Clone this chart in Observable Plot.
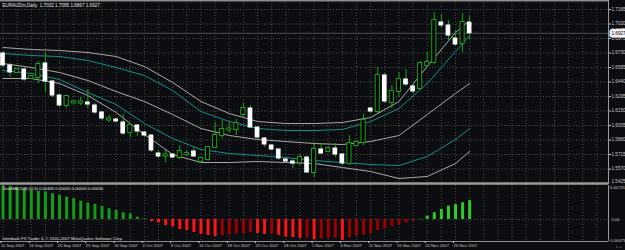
<!DOCTYPE html>
<html><head><meta charset="utf-8">
<script src="https://cdn.jsdelivr.net/npm/d3@7"></script>
<script src="https://cdn.jsdelivr.net/npm/@observablehq/plot@0.6"></script>
<style>
html,body{margin:0;padding:0;background:#0c0d10;}
#chart{position:relative;width:625px;height:250px;background:#0c0d10;overflow:hidden;}
#chart svg{position:absolute;left:0;display:block;}
</style></head><body><div id="chart"></div>
<script>
// ---- data (EURAUDm daily, bars 0..66) ----
const open = [1.6725,1.6605,1.6535,1.6565,1.6475,1.6485,1.6625,1.6445,1.6305,1.6205,
1.6230,1.6230,1.6235,1.6205,1.6135,1.6060,1.6065,1.6035,1.5935,1.6005,
1.5935,1.5905,1.5725,1.5700,1.5715,1.5685,1.5715,1.5745,1.5645,1.5665,
1.5785,1.5905,1.5960,1.5965,1.6115,1.6175,1.5985,1.5875,1.5805,1.5765,
1.5665,1.5645,1.5635,1.5685,1.5535,1.5765,1.5745,1.5775,1.5715,1.5625,
1.5805,1.5835,1.6175,1.6145,1.6505,1.6235,1.6345,1.6465,1.6395,1.6375,
1.6605,1.6635,1.7035,1.7005,1.6875,1.6825,1.7032];
const high = [1.6745,1.6625,1.6575,1.6575,1.6505,1.6645,1.6735,1.6455,1.6315,1.6305,
1.6255,1.6285,1.6365,1.6225,1.6145,1.6105,1.6075,1.6115,1.6025,1.6015,
1.5945,1.5915,1.5755,1.5755,1.5725,1.5805,1.5755,1.5785,1.5685,1.5795,
1.6035,1.6055,1.6035,1.6065,1.6225,1.6205,1.5995,1.5885,1.5815,1.5775,
1.5675,1.5675,1.5715,1.5695,1.5835,1.5825,1.5795,1.5825,1.5725,1.5905,
1.5855,1.6115,1.6185,1.6585,1.6525,1.6405,1.6535,1.6565,1.6415,1.6645,
1.6735,1.7135,1.7115,1.7055,1.6955,1.7125,1.7095];
const low = [1.6585,1.6485,1.6525,1.6445,1.6465,1.6425,1.6335,1.6285,1.6185,1.6175,
1.6225,1.6205,1.6175,1.6115,1.6055,1.6035,1.6035,1.5905,1.5885,1.5895,
1.5885,1.5735,1.5675,1.5635,1.5675,1.5665,1.5695,1.5685,1.5625,1.5645,
1.5775,1.5875,1.5925,1.5905,1.6085,1.5975,1.5865,1.5785,1.5755,1.5655,
1.5635,1.5575,1.5605,1.5525,1.5485,1.5715,1.5735,1.5685,1.5605,1.5605,
1.5795,1.5805,1.6125,1.6125,1.6225,1.6175,1.6285,1.6395,1.6325,1.6355,
1.6585,1.6615,1.6985,1.6855,1.6795,1.6735,1.6867];
const close = [1.6605,1.6535,1.6565,1.6465,1.6495,1.6615,1.6445,1.6305,1.6205,1.6295,
1.6240,1.6240,1.6215,1.6135,1.6075,1.6070,1.6045,1.5925,1.6005,1.5945,
1.5905,1.5755,1.5695,1.5710,1.5685,1.5745,1.5725,1.5695,1.5675,1.5785,
1.5905,1.5965,1.5970,1.6025,1.6175,1.5985,1.5885,1.5815,1.5765,1.5675,
1.5645,1.5625,1.5685,1.5535,1.5765,1.5725,1.5775,1.5715,1.5625,1.5825,
1.5835,1.6055,1.6145,1.6505,1.6245,1.6345,1.6465,1.6415,1.6345,1.6625,
1.6635,1.7055,1.7005,1.6905,1.6815,1.7035,1.6927];

// band lines, read at these bar indices
const bandBars = [0,4,8,12,16,20,24,28,32,36,40,44,48,52,56,60,64,66];
const outerUpper = [1.6785,1.6765,1.6755,1.6735,1.6695,1.6595,1.6435,1.6245,1.6125,1.6045,1.6025,1.6025,1.6035,1.6085,1.6245,1.6595,1.6935,1.7055];
const innerUpper = [1.6725,1.6705,1.6695,1.6655,1.6585,1.6505,1.6355,1.6145,1.6045,1.5975,1.5955,1.5955,1.5965,1.6045,1.6175,1.6425,1.6745,1.6905];
const middle     = [1.6625,1.6585,1.6535,1.6455,1.6345,1.6245,1.6115,1.5975,1.5905,1.5865,1.5845,1.5825,1.5815,1.5845,1.5905,1.6115,1.6325,1.6425];
const innerLower = [1.6555,1.6525,1.6465,1.6335,1.6215,1.6025,1.5875,1.5765,1.5725,1.5705,1.5685,1.5655,1.5635,1.5615,1.5605,1.5695,1.5865,1.5975];
const outerLower = [1.6475,1.6475,1.6425,1.6305,1.6135,1.5915,1.5715,1.5635,1.5635,1.5645,1.5635,1.5625,1.5585,1.5545,1.5475,1.5495,1.5625,1.5745];

const macd = [0.00731,0.00713,0.00685,0.00663,0.00626,0.00605,0.00590,0.00555,0.00518,0.00482,
0.00447,0.00395,0.00352,0.00324,0.00281,0.00231,0.00194,0.00145,0.00123,0.00050,
0.00012,-0.00043,-0.00076,-0.00130,-0.00162,-0.00216,-0.00238,-0.00281,-0.00324,-0.00346,
-0.00367,-0.00346,-0.00335,-0.00313,-0.00302,-0.00281,-0.00302,-0.00324,-0.00318,-0.00346,
-0.00378,-0.00389,-0.00410,-0.00400,-0.00432,-0.00421,-0.00410,-0.00400,-0.00454,-0.00389,
-0.00356,-0.00335,-0.00302,-0.00238,-0.00205,-0.00151,-0.00119,-0.00076,-0.00043,0.00006,
0.00071,0.00145,0.00216,0.00287,0.00318,0.00360,0.00405];

const priceTicks = [1.7165,1.7020,1.6875,1.6730,1.6585,1.6440,1.6295,1.6150,1.6005,1.5860,1.5715,1.5570,1.5425];
const lastPrice = 1.6927;
const macdTicks = [0.00731, 0, -0.00475];
const macdTickLabels = ["0.00731", "0.00", "-0.00475"];
const dateTicks = [0,4,8,12,16,20,24,28,32,36,40,44,48,52,56,60,64];
const dateLabels = ["11 Sep 2007","16 Sep 2007","20 Sep 2007","25 Sep 2007","30 Sep 2007","4 Oct 2007","9 Oct 2007","14 Oct 2007","18 Oct 2007","23 Oct 2007","28 Oct 2007","1 Nov 2007","6 Nov 2007","11 Nov 2007","15 Nov 2007","20 Nov 2007","25 Nov 2007"];
const titleText = "EURAUDm,Daily  1.7032 1.7095 1.6867 1.6927";
const macdTitle = "ZeroMACD(8,20,5) 0.00405 0.00000 0.00000 0.00000";
const caption = "Interbank FX Trader 4, \u00a9 2001-2007 MetaQuotes Software Corp.";

// ---- build ----
const xDomain = [-0.354, 85.64];
const yDomain = [1.5415, 1.7255];
const macdDomain = [-0.00475, 0.00731];
const gridBars = d3.range(0, 86, 2);
const font = "Liberation Sans, Arial, sans-serif";
const fs = 4.6;
const fsSmall = 4.2;
const GRID = "#4a4a4e";
const WICK = "#17a317";
const GRAY = "#a9a9a9";
const TEAL = "#138f8f";

const candles = open.map((o, i) => ({i, o, h: high[i], l: low[i], c: close[i], up: close[i] >= o}));
const band = vals => vals.map((p, k) => ({i: bandBars[k], p}));
const hist = macd.map((v, i) => {
  const prev = i > 0 ? macd[i - 1] : v;
  const kind = v >= 0 ? (v > prev ? "up+" : "dn+") : (v < prev ? "dn-" : "up-");
  return {i, v, kind};
});
const priceLabel = new Map(priceTicks.map(t => [t, t.toFixed(4)]));
const macdLabel = new Map(macdTicks.map((t, k) => [t, macdTickLabels[k]]));
const dateLabel = new Map(dateTicks.map((t, k) => [t, dateLabels[k]]));
const lastTick = priceTicks[priceTicks.length - 1];

const baseStyle = {background: "transparent", color: "#c8c8c8", fontFamily: font, fontSize: fs + "px", overflow: "visible"};

const main = Plot.plot({
  width: 625, height: 184,
  marginTop: 0, marginLeft: 0, marginRight: 17, marginBottom: 0,
  style: baseStyle,
  x: {domain: xDomain, axis: null},
  y: {domain: yDomain, axis: null, label: null},
  marks: [
    Plot.ruleX(gridBars, {stroke: GRID, strokeDasharray: "1,2"}),
    Plot.ruleY(priceTicks, {stroke: GRID, strokeDasharray: "1,2"}),
    Plot.ruleY([lastPrice], {stroke: "#505054"}),
    Plot.line(band(outerUpper), {x: "i", y: "p", stroke: GRAY, strokeWidth: 1}),
    Plot.line(band(innerUpper), {x: "i", y: "p", stroke: TEAL, strokeWidth: 1}),
    Plot.line(band(middle), {x: "i", y: "p", stroke: GRAY, strokeWidth: 1}),
    Plot.line(band(innerLower), {x: "i", y: "p", stroke: TEAL, strokeWidth: 1}),
    Plot.line(band(outerLower), {x: "i", y: "p", stroke: GRAY, strokeWidth: 1}),
    Plot.ruleX(candles, {x: "i", y1: "l", y2: "h", stroke: WICK, strokeWidth: 1}),
    Plot.rect(candles.filter(d => d.up), {x1: d => d.i - 0.29, x2: d => d.i + 0.29, y1: "o", y2: "c", fill: "#000", stroke: WICK, strokeWidth: 1, insetTop: -0.5, insetBottom: -0.5}),
    Plot.rect(candles.filter(d => !d.up), {x1: d => d.i - 0.33, x2: d => d.i + 0.33, y1: "o", y2: "c", fill: "#ffffff", insetTop: -0.5, insetBottom: -0.5}),
    Plot.ruleY([yDomain[1]], {stroke: "#8c8c8c", strokeWidth: 2}),
    Plot.ruleY([lastTick], {stroke: "#9a9a9a", strokeWidth: 2.5}),
    Plot.ruleX([xDomain[1]], {stroke: "#9a9a9a"}),
    Plot.axisY(priceTicks.slice(0, -1), {anchor: "right", tickSize: 2, tickPadding: 1, tickFormat: d => priceLabel.get(d), fontSize: fs, color: "#c8c8c8"}),
    Plot.axisY([lastTick], {anchor: "right", tickSize: 0, tickPadding: 3, tickFormat: d => priceLabel.get(d), fontSize: fs, color: "#c8c8c8", dy: -2.2}),
    Plot.text([lastPrice], {x: xDomain[1], y: d => d, text: d => d.toFixed(4), textAnchor: "start", dx: 3, fontSize: fs, fill: "#000", stroke: "#f2f2f2", strokeWidth: 5}),
    Plot.text([titleText], {frameAnchor: "top-left", dx: 2, dy: 3, fontSize: fs, fill: "#e0e0e0"})
  ]
});
main.style.top = "0px";

const sub = Plot.plot({
  width: 625, height: 66,
  marginTop: 1, marginLeft: 0, marginRight: 17, marginBottom: 9,
  style: baseStyle,
  x: {domain: xDomain, axis: null},
  y: {domain: macdDomain, axis: null, label: null},
  marks: [
    Plot.ruleX(gridBars, {stroke: GRID, strokeDasharray: "1,2"}),
    Plot.ruleY([0], {stroke: GRID, strokeDasharray: "1,2"}),
    Plot.ruleX(hist.filter(d => d.kind === "dn+"), {x: "i", y1: 0, y2: "v", stroke: "#179a17", strokeWidth: 3}),
    Plot.ruleX(hist.filter(d => d.kind === "up+"), {x: "i", y1: 0, y2: "v", stroke: "#2ccb2c", strokeWidth: 3}),
    Plot.ruleX(hist.filter(d => d.kind === "dn-"), {x: "i", y1: 0, y2: "v", stroke: "#ff1414", strokeWidth: 3}),
    Plot.ruleX(hist.filter(d => d.kind === "up-"), {x: "i", y1: 0, y2: "v", stroke: "#9c0000", strokeWidth: 3}),
    Plot.ruleY([macdDomain[0]], {stroke: "#8c8c8c"}),
    Plot.ruleX([xDomain[1]], {stroke: "#9a9a9a"}),
    Plot.axisY([macdTicks[0]], {anchor: "right", tickSize: 0, tickPadding: 1.5, tickFormat: d => macdLabel.get(d), fontSize: fsSmall, color: "#c8c8c8", dy: 1.8}),
    Plot.axisY([macdTicks[1]], {anchor: "right", tickSize: 0, tickPadding: 3, tickFormat: d => macdLabel.get(d), fontSize: fsSmall, color: "#c8c8c8"}),
    Plot.axisY([macdTicks[2]], {anchor: "right", tickSize: 0, tickPadding: 0.5, tickFormat: d => macdLabel.get(d), fontSize: fsSmall, color: "#c8c8c8", dy: -1}),
    Plot.axisX(dateTicks, {anchor: "bottom", tickSize: 2, tickPadding: 1, tickFormat: d => dateLabel.get(d), textAnchor: "start", dx: -2, fontSize: fsSmall, color: "#c8c8c8"}),
    Plot.text([macdTitle], {frameAnchor: "top-left", dx: 2, dy: 1.5, fontSize: fsSmall, fill: "#e0e0e0"}),
    Plot.text([caption], {frameAnchor: "bottom-left", dx: 2, dy: -1.5, fontSize: fsSmall, fill: "#e0e0e0"})
  ]
});
sub.style.top = "184px";

const chart = document.getElementById("chart");
chart.append(main, sub);
</script>
</body></html>
